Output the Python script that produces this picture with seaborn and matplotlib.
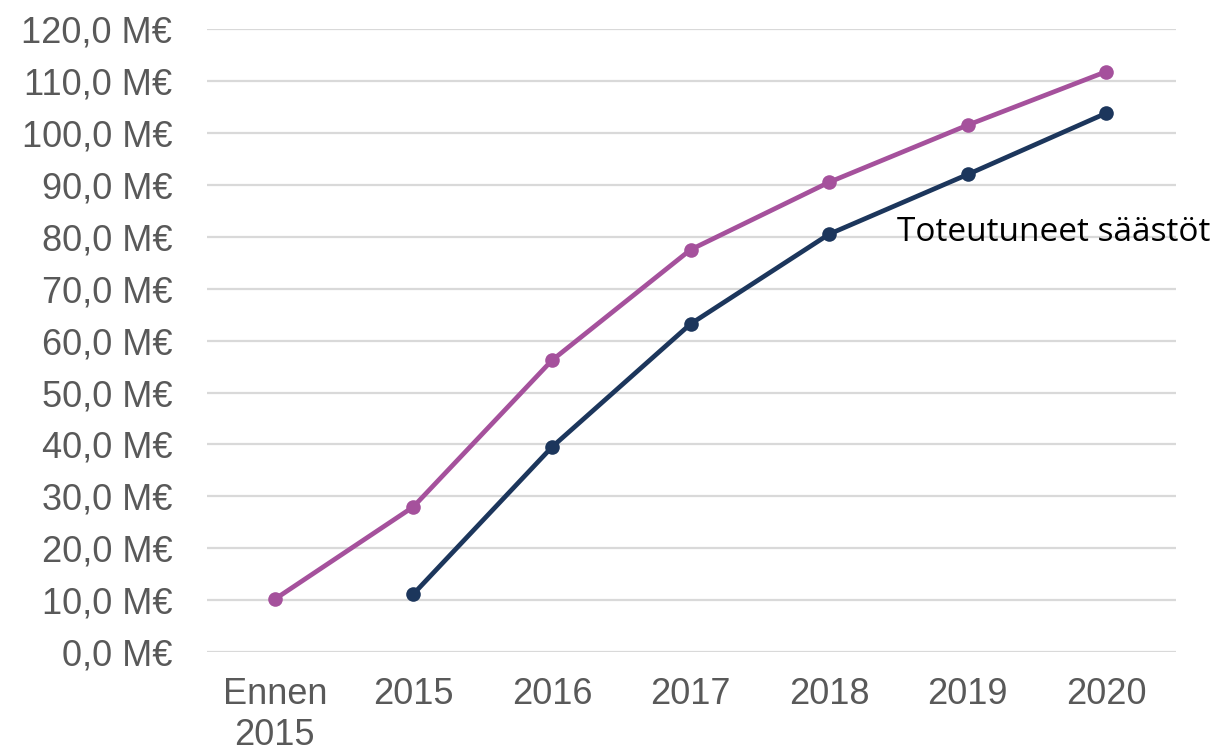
import pandas as pd
import seaborn as sns
import matplotlib.pyplot as plt

# %%
categories = ["Ennen\n2015", "2015", "2016", "2017", "2018", "2019", "2020"]
tavoite = [10.2, 28.0, 56.2, 77.5, 90.5, 101.5, 111.8]
toteutuneet = [None, 11.2, 39.5, 63.2, 80.5, 92.0, 103.8]
y_ticks = list(range(0, 130, 10))

df = pd.DataFrame({"pos": range(len(categories)),
                   "tavoite": tavoite,
                   "toteutuneet": toteutuneet})

# %%
sns.set_style("white")
plt.rcParams["font.family"] = ["Liberation Sans", "DejaVu Sans"]

fig = plt.figure(figsize=(12.24, 7.54), dpi=100)
ax = fig.add_axes([0.169, 0.135, 0.792, 0.8265])

for col, color in [("tavoite", "#A5519C"), ("toteutuneet", "#1C365C")]:
    sns.lineplot(data=df.dropna(subset=[col]), x="pos", y=col, ax=ax,
                 color=color, linewidth=3.4, marker="o", markersize=10.5,
                 markeredgewidth=0)

ax.text(4.49, 80.8, "Toteutuneet säästöt", fontsize=24, va="center",
        ha="left", color="black", family=["Open Sans", "DejaVu Sans"])

ax.set_xlim(-0.49, 6.505)
ax.set_ylim(0, 120)
ax.set_yticks(y_ticks)
ax.set_yticklabels([f"{v},0 M€" for v in y_ticks])
ax.set_xticks(range(len(categories)))
ax.set_xticklabels(categories)
ax.tick_params(axis="y", labelsize=26, labelcolor="#595959", length=0, pad=25)
ax.tick_params(axis="x", labelsize=26, labelcolor="#595959", length=0, pad=18)
ax.grid(axis="y", color="#D9D9D9", linewidth=1.6)
ax.set_axisbelow(True)
ax.set_xlabel("")
ax.set_ylabel("")
sns.despine(ax=ax, left=True, bottom=True)

fig.savefig("out.png", dpi=100)
